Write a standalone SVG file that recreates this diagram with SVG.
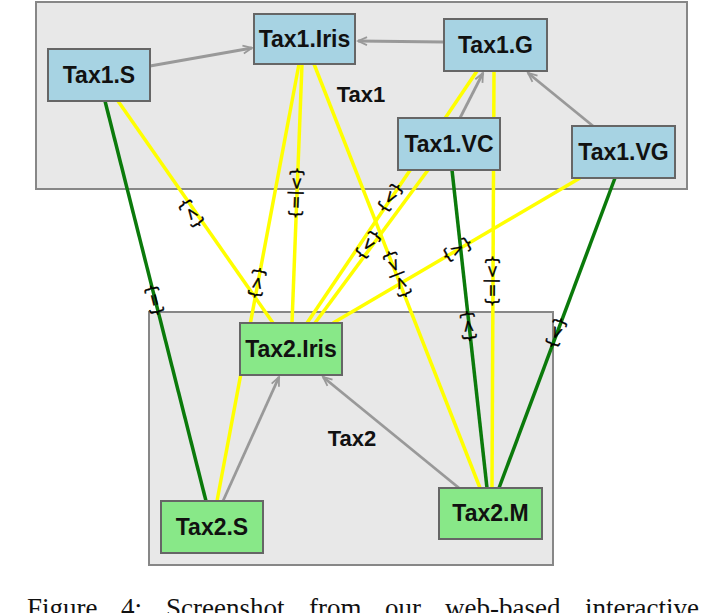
<svg xmlns="http://www.w3.org/2000/svg" width="715" height="613" viewBox="0 0 715 613">
<style>
.tax{fill:#e8e8e8;stroke:#878787;stroke-width:2}
.n1{fill:#a7d3e3;stroke:#666;stroke-width:2}
.n2{fill:#88e888;stroke:#666;stroke-width:2}
.nt{font-family:"Liberation Sans",Arial,sans-serif;font-weight:bold;font-size:23px;text-anchor:middle;fill:#111}
.tl{font-family:"Liberation Sans",Arial,sans-serif;font-weight:bold;font-size:22px;text-anchor:middle;fill:#111}
.y{stroke:#ffff00;stroke-width:3.5;fill:none}
.g{stroke:#0b7a0b;stroke-width:3.5;fill:none}
.h{stroke:#999;stroke-width:2.8;fill:none;marker-end:url(#ah)}
.lb{font-family:"DejaVu Sans",sans-serif;font-size:16px;text-anchor:middle;dominant-baseline:central;fill:#000;stroke:#000;stroke-width:0.4}
.cap{font-family:"Liberation Serif","Times New Roman",serif;font-size:27px;fill:#111}
</style>
<defs>
<marker id="ah" markerUnits="userSpaceOnUse" markerWidth="12" markerHeight="12" refX="10" refY="5" orient="auto" viewBox="0 0 12 10">
<path d="M1,1 L10,5 L1,9" fill="none" stroke="#999" stroke-width="1.8"/>
</marker>
</defs>
<g id="tax1"><rect class="tax" x="36" y="2" width="651" height="187"/><text class="tl" x="361" y="102">Tax1</text></g>
<g id="tax2"><rect class="tax" x="149" y="312" width="404" height="253"/><text class="tl" x="352" y="446">Tax2</text></g>
<g id="connectors">
<line class="h" x1="150" y1="66" x2="252" y2="48"/>
<line class="h" x1="444" y1="42" x2="358" y2="41"/>
<line class="h" x1="460" y1="118" x2="483" y2="73"/>
<line class="h" x1="593" y1="126" x2="528" y2="73"/>
<line class="h" x1="223" y1="501" x2="279" y2="377"/>
<line class="h" x1="459" y1="488" x2="323" y2="377"/>
<line class="y" x1="118" y1="101" x2="273" y2="323"/>
<line class="y" x1="299" y1="64" x2="217" y2="501"/>
<line class="y" x1="302" y1="64" x2="292" y2="323"/>
<line class="y" x1="314" y1="64" x2="480" y2="488"/>
<line class="y" x1="477" y1="71" x2="307" y2="323"/>
<line class="y" x1="428" y1="170" x2="315" y2="323"/>
<line class="y" x1="494" y1="71" x2="492" y2="488"/>
<line class="y" x1="580" y1="178" x2="333" y2="323"/>
<line class="g" x1="105" y1="101" x2="206" y2="501"/>
<line class="g" x1="452" y1="170" x2="487" y2="488"/>
<line class="g" x1="615" y1="178" x2="499" y2="488"/>
</g>
<g id="Tax1.S"><rect class="n1" x="48" y="49" width="102" height="52"/><text class="nt" x="99" y="83">Tax1.S</text></g>
<g id="Tax1.Iris"><rect class="n1" x="254" y="14" width="101" height="50"/><text class="nt" x="304.5" y="47">Tax1.Iris</text></g>
<g id="Tax1.G"><rect class="n1" x="444" y="19" width="103" height="52"/><text class="nt" x="495.5" y="53">Tax1.G</text></g>
<g id="Tax1.VC"><rect class="n1" x="398" y="118" width="102" height="52"/><text class="nt" x="449" y="152">Tax1.VC</text></g>
<g id="Tax1.VG"><rect class="n1" x="572" y="126" width="103" height="52"/><text class="nt" x="623.5" y="160">Tax1.VG</text></g>
<g id="Tax2.Iris"><rect class="n2" x="240" y="323" width="102" height="52"/><text class="nt" x="291" y="357">Tax2.Iris</text></g>
<g id="Tax2.S"><rect class="n2" x="161" y="501" width="102" height="52"/><text class="nt" x="212" y="535">Tax2.S</text></g>
<g id="Tax2.M"><rect class="n2" x="439" y="488" width="103" height="51"/><text class="nt" x="490.5" y="521">Tax2.M</text></g>
<g id="labels">
<text class="lb" transform="translate(155,300) rotate(75.8)">{=}</text>
<text class="lb" transform="translate(192,213) rotate(55.1)">{&lt;}</text>
<text class="lb" transform="translate(258,283) rotate(100.6)">{&lt;}</text>
<text class="lb" transform="translate(297,193) rotate(92.2)">{&gt;|=}</text>
<text class="lb" transform="translate(391,198) rotate(124)">{&gt;}</text>
<text class="lb" transform="translate(369,245) rotate(126.4)">{&gt;}</text>
<text class="lb" transform="translate(398,274) rotate(68.6)">{&gt;|&lt;}</text>
<text class="lb" transform="translate(457,249) rotate(-30.4)">{&gt;}</text>
<text class="lb" transform="translate(493,281) rotate(90.3)">{&gt;|=}</text>
<text class="lb" transform="translate(469,326) rotate(83.7)">{&lt;}</text>
<text class="lb" transform="translate(557,333) rotate(110.5)">{&gt;}</text>
</g>
<text class="cap" y="617"><tspan x="27">Figure</tspan><tspan x="121">4:</tspan><tspan x="166">Screenshot</tspan><tspan x="309">from</tspan><tspan x="385">our</tspan><tspan x="445">web-based</tspan><tspan x="585">interactive</tspan></text>
</svg>
